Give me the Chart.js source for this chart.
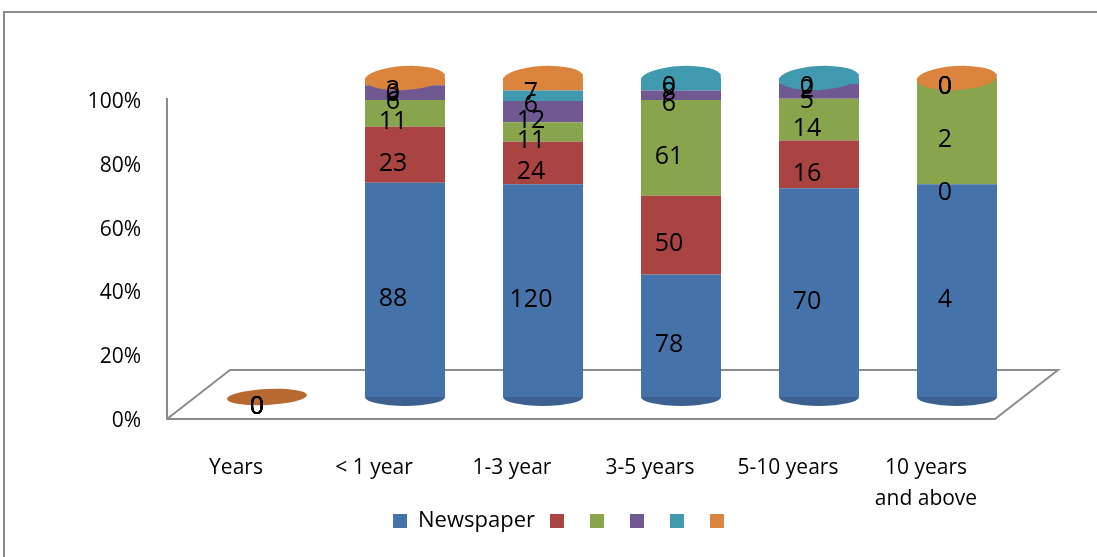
<!DOCTYPE html>
<html>
<head>
<meta charset="utf-8">
<script src="https://cdn.jsdelivr.net/npm/chart.js@4.4.0/dist/chart.umd.min.js"></script>
<style>
html, body { margin: 0; padding: 0; background: #fff; }
#wrap { position: relative; width: 1097px; height: 557px; overflow: hidden; }
#frame { position: absolute; left: 3px; top: 11px; width: 1110px; height: 570px; border: 2px solid #8c8c8c; box-sizing: border-box; }
#c { position: absolute; left: 0; top: 0; }
</style>
</head>
<body>
<div id="wrap"><div id="frame"></div><canvas id="c" width="1097" height="557"></canvas></div>
<script>
// categories and counts
const categories = ['Years', '< 1 year', '1-3 year', '3-5 years', '5-10 years', ['10 years', 'and above']];
const newspaper = [0, 88, 120, 78, 70, 4];
const series2 = [0, 23, 24, 50, 16, 0];
const series3 = [0, 11, 11, 61, 14, 2];
const series4 = [0, 6, 12, 6, 5, 0];
const series5 = [0, 0, 6, 8, 2, 0];
const series6 = [0, 3, 7, 0, 0, 0];
const seriesNames = ['Newspaper', '', '', '', '', ''];
const yTicks = [0, 20, 40, 60, 80, 100];

const counts = [newspaper, series2, series3, series4, series5, series6];
const colors = ['#4672AA', '#A94442', '#88A54D', '#705890', '#4199AF', '#DB843D'];
const FONT = '"Open Sans", sans-serif';

// totals per category, for the 100% stack
const totals = categories.map((c, i) => counts.reduce((s, arr) => s + arr[i], 0));

function shade(hex, f) {
    const n = parseInt(hex.slice(1), 16);
    let r = (n >> 16) & 255, g = (n >> 8) & 255, b = n & 255;
    const m = v => Math.max(0, Math.min(255, Math.round(f >= 1 ? v + (255 - v) * (f - 1) : v * f)));
    return 'rgb(' + m(r) + ',' + m(g) + ',' + m(b) + ')';
}

// cylinder-like horizontal gradient per bar
function cylFill(color) {
    return function (ctx) {
        const chart = ctx.chart;
        const el = ctx.element;
        if (!chart.chartArea || !el || !el.width) return color;
        const x0 = el.x - el.width / 2, x1 = el.x + el.width / 2;
        const g = chart.ctx.createLinearGradient(x0, 0, x1, 0);
        g.addColorStop(0, shade(color, 0.8));
        g.addColorStop(0.45, shade(color, 1.15));
        g.addColorStop(1, shade(color, 0.7));
        return g;
    };
}

const datasets = counts.map((arr, k) => ({
    label: seriesNames[k],
    data: arr.map((v, i) => totals[i] ? v / totals[i] * 100 : 0),
    backgroundColor: cylFill(colors[k]),
    borderWidth: 0,
    categoryPercentage: 1,
    barPercentage: 0.58
}));

// cap colours as in the picture
const capColors = ['#B8692F', colors[5], colors[5], colors[4], colors[4], colors[5]];

// floor, back wall edge, cylinder caps and value labels
const decor = {
    id: 'decor',
    afterLayout(chart) {
        // legend sits a bit right of centre and overlaps the x label box
        const lg = chart.legend;
        lg.left += 102;
        lg.top -= 15;
        lg.bottom -= 15;
    },
    beforeDatasetsDraw(chart) {
        const { ctx, chartArea: a } = chart;
        ctx.save();
        ctx.strokeStyle = '#8c8c8c';
        ctx.lineWidth = 2;
        ctx.beginPath();
        ctx.moveTo(a.left - 31, a.top + 20);
        ctx.lineTo(a.left - 31, a.bottom + 22);
        ctx.lineTo(a.right - 31, a.bottom + 22);
        ctx.lineTo(a.right + 32, a.bottom - 27);
        ctx.lineTo(a.left + 32, a.bottom - 27);
        ctx.lineTo(a.left - 31, a.bottom + 22);
        ctx.stroke();
        ctx.restore();
    },
    afterDatasetsDraw(chart) {
        const { ctx } = chart;
        const metas = chart.data.datasets.map((d, k) => chart.getDatasetMeta(k));
        ctx.save();
        categories.forEach((c, i) => {
            const base = metas[0].data[i];
            const w = base.width;
            if (totals[i]) {
                ctx.fillStyle = shade(colors[0], 0.85);
                ctx.beginPath();
                ctx.ellipse(base.x, base.base, w / 2, 9, 0, 0, Math.PI);
                ctx.fill();
            }
            const yTop = Math.min(...metas.map(m => m.data[i].y));
            ctx.fillStyle = capColors[i];
            ctx.beginPath();
            ctx.ellipse(base.x, yTop, w / 2, totals[i] ? 12 : 8, -0.05, 0, Math.PI * 2);
            ctx.fill();
        });
        // value labels
        ctx.fillStyle = '#000';
        ctx.font = '25px ' + FONT;
        ctx.textAlign = 'center';
        ctx.textBaseline = 'middle';
        metas.forEach((m, k) => {
            m.data.forEach((el, i) => {
                const y = totals[i] ? (el.y + el.base) / 2 + 9 : el.base + 10;
                ctx.fillText(String(counts[k][i]), el.x - (totals[i] ? 12 : 10), y);
            });
        });
        ctx.restore();
    }
};

new Chart(document.getElementById('c'), {
    type: 'bar',
    data: { labels: categories, datasets: datasets },
    options: {
        responsive: false,
        animation: false,
        layout: { padding: { left: 0, right: 71, top: 78, bottom: 0 } },
        plugins: {
            tooltip: { enabled: false },
            legend: {
                position: 'bottom',
                labels: {
                    boxWidth: 14,
                    boxHeight: 14,
                    padding: 15,
                    color: '#000',
                    font: { family: FONT, size: 22 },
                    generateLabels: () => seriesNames.map((n, k) => ({
                        text: n, fillStyle: colors[k], strokeStyle: colors[k], lineWidth: 0, datasetIndex: k
                    }))
                }
            }
        },
        scales: {
            x: {
                stacked: true,
                grid: { display: false, drawTicks: false },
                border: { display: false },
                ticks: {
                    color: '#000',
                    font: { family: FONT, size: 21, lineHeight: 1.5 },
                    padding: 55,
                    labelOffset: -31,
                    maxRotation: 0,
                    autoSkip: false
                },
                afterFit: axis => { axis.height = 113; }
            },
            y: {
                stacked: true,
                min: 0,
                max: 100,
                afterBuildTicks: axis => { axis.ticks = yTicks.map(v => ({ value: v })); },
                grid: { display: false, drawTicks: false },
                border: { display: false },
                ticks: {
                    color: '#000',
                    font: { family: FONT, size: 21 },
                    padding: 57,
                    labelOffset: 24,
                    callback: v => v + '%'
                },
                afterFit: axis => { axis.width = 198; }
            }
        }
    },
    plugins: [decor]
});
</script>
</body>
</html>
